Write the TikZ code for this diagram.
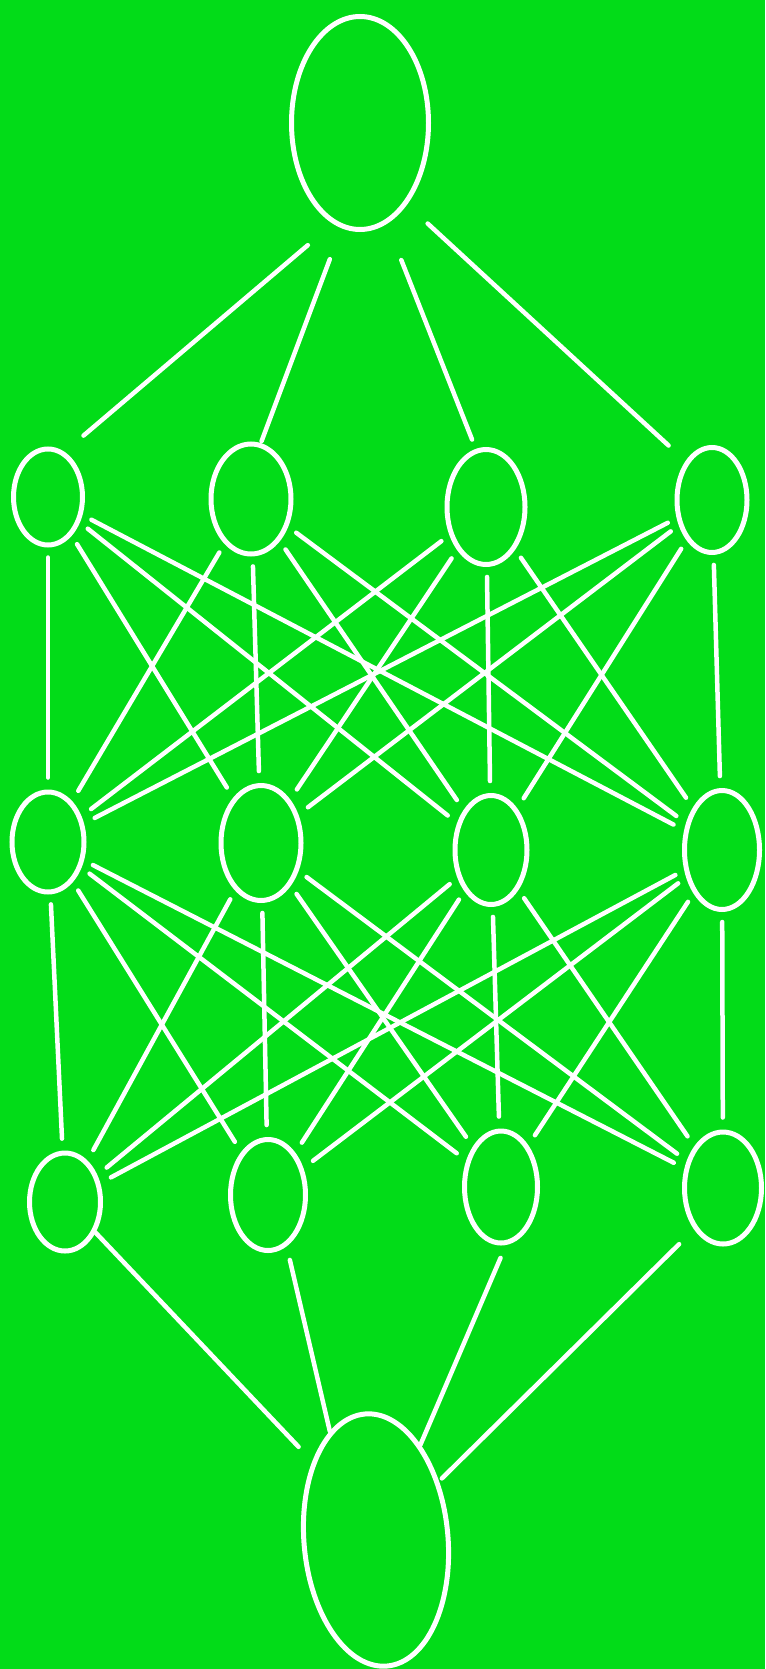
\documentclass[tikz,border=0pt]{standalone}
\usepackage{tikz,xcolor}
\usetikzlibrary{shapes.geometric}
\definecolor{leaf}{HTML}{02DC18}
\tikzset{
  seed/.style={ellipse,draw=white,line width=5pt,inner sep=0pt},
  stem/.style={draw=white,line width=4.5pt,line cap=round,shorten <=10pt,shorten >=12pt},
}

\begin{document}
\begin{tikzpicture}[x=1pt,y=-1pt]
\fill[leaf] (0,0) rectangle (765,1669);
\useasboundingbox (0,0) rectangle (765,1669);
\node[seed,minimum width=137pt,minimum height=213pt] (top) at (360,123) {};
\node[seed,minimum width=69pt,minimum height=96pt] (n11) at (48,497) {};
\node[seed,minimum width=80pt,minimum height=110pt] (n12) at (251,499) {};
\node[seed,minimum width=78pt,minimum height=115pt] (n13) at (486,507) {};
\node[seed,minimum width=70pt,minimum height=105pt] (n14) at (712,500) {};
\node[seed,minimum width=72pt,minimum height=100pt] (n21) at (48,842) {};
\node[seed,minimum width=80pt,minimum height=115pt] (n22) at (261,843) {};
\node[seed,minimum width=72pt,minimum height=109pt] (n23) at (491,850) {};
\node[seed,minimum width=75pt,minimum height=119pt] (n24) at (722,850) {};
\node[seed,minimum width=71pt,minimum height=98pt] (n31) at (65,1202) {};
\node[seed,minimum width=75pt,minimum height=111pt] (n32) at (268,1195) {};
\node[seed,minimum width=73pt,minimum height=112pt] (n33) at (501,1187) {};
\node[seed,minimum width=77pt,minimum height=112pt] (n34) at (723,1188) {};
\node[seed,minimum width=144pt,minimum height=253pt,rotate=5] (bot) at (376,1540) {};
\draw[stem,shorten <=33pt,shorten >=25pt] (top.255) -- (n11.70);
\draw[stem,shorten <=33pt,shorten >=2pt] (top.260) -- (n12.80);
\draw[stem,shorten <=39pt,shorten >=10pt] (top.285) -- (n13.100);
\draw[stem,shorten <=28pt,shorten >=23pt] (top.300) -- (n14.north west);
\draw[stem,shorten <=0pt,shorten >=20pt] (n31.315) -- (bot.124);
\draw[stem,shorten <=14pt,shorten >=0pt] (n32.290) -- (bot.108);
\draw[stem,shorten <=14pt,shorten >=0pt] (n33.275) -- (bot.60);
\draw[stem,shorten <=21pt,shorten >=4pt] (n34.235) -- (bot.38);
\foreach \a in {1,...,4}
  \foreach \b in {1,...,4} {
    \draw[stem] (n1\a) -- (n2\b);
    \draw[stem] (n2\a) -- (n3\b);
  }
\end{tikzpicture}
\end{document}
